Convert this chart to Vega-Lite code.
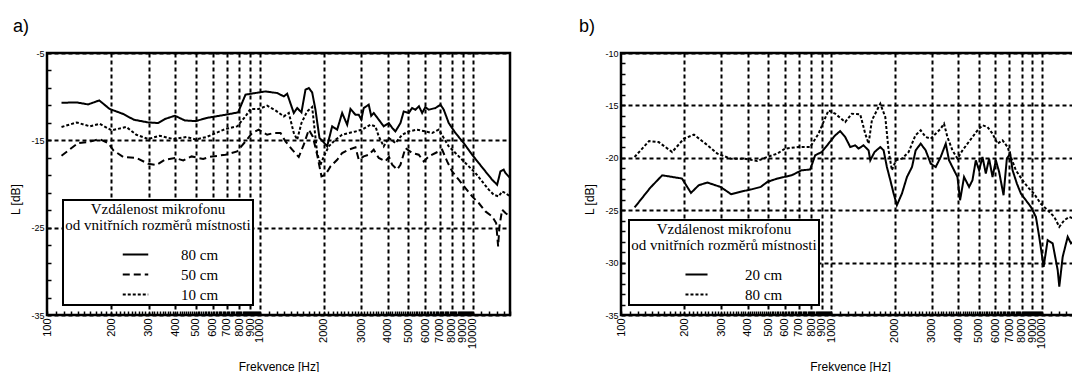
{
  "$schema": "https://vega.github.io/schema/vega-lite/v6.json",
  "background": "white",
  "padding": {"left": 8, "top": 16, "right": 0, "bottom": 0},
  "spacing": 60,
  "datasets": {
    "a": [
      {"f":117,"L":-10.7,"s":"80 cm"},{"f":138,"L":-10.66,"s":"80 cm"},{"f":156,"L":-10.89,"s":"80 cm"},{"f":176,"L":-10.43,"s":"80 cm"},{"f":197,"L":-11.41,"s":"80 cm"},{"f":228,"L":-11.98,"s":"80 cm"},{"f":256,"L":-12.64,"s":"80 cm"},{"f":299,"L":-12.95,"s":"80 cm"},{"f":333,"L":-13.02,"s":"80 cm"},{"f":358,"L":-12.56,"s":"80 cm"},{"f":399,"L":-12.18,"s":"80 cm"},{"f":444,"L":-12.72,"s":"80 cm"},{"f":500,"L":-12.8,"s":"80 cm"},{"f":562,"L":-12.44,"s":"80 cm"},{"f":690,"L":-12.07,"s":"80 cm"},{"f":791,"L":-11.8,"s":"80 cm"},{"f":857,"L":-9.77,"s":"80 cm"},{"f":955,"L":-9.58,"s":"80 cm"},{"f":1064,"L":-9.4,"s":"80 cm"},{"f":1144,"L":-9.51,"s":"80 cm"},{"f":1207,"L":-9.58,"s":"80 cm"},{"f":1297,"L":-9.97,"s":"80 cm"},{"f":1345,"L":-9.66,"s":"80 cm"},{"f":1445,"L":-11.87,"s":"80 cm"},{"f":1499,"L":-11.3,"s":"80 cm"},{"f":1570,"L":-11.8,"s":"80 cm"},{"f":1640,"L":-9.2,"s":"80 cm"},{"f":1700,"L":-9.01,"s":"80 cm"},{"f":1763,"L":-9.51,"s":"80 cm"},{"f":1827,"L":-11.49,"s":"80 cm"},{"f":1908,"L":-14.73,"s":"80 cm"},{"f":1978,"L":-15.12,"s":"80 cm"},{"f":2073,"L":-15.69,"s":"80 cm"},{"f":2189,"L":-13.4,"s":"80 cm"},{"f":2311,"L":-13.78,"s":"80 cm"},{"f":2439,"L":-11.87,"s":"80 cm"},{"f":2575,"L":-13.21,"s":"80 cm"},{"f":2669,"L":-11.41,"s":"80 cm"},{"f":2817,"L":-12.07,"s":"80 cm"},{"f":2919,"L":-12.07,"s":"80 cm"},{"f":3000,"L":-12.6,"s":"80 cm"},{"f":3081,"L":-11.3,"s":"80 cm"},{"f":3252,"L":-10.92,"s":"80 cm"},{"f":3340,"L":-12.2,"s":"80 cm"},{"f":3433,"L":-11.87,"s":"80 cm"},{"f":3625,"L":-12.64,"s":"80 cm"},{"f":3825,"L":-13.4,"s":"80 cm"},{"f":4039,"L":-13.02,"s":"80 cm"},{"f":4200,"L":-13.6,"s":"80 cm"},{"f":4341,"L":-13.98,"s":"80 cm"},{"f":4584,"L":-13.02,"s":"80 cm"},{"f":4750,"L":-11.69,"s":"80 cm"},{"f":5015,"L":-11.87,"s":"80 cm"},{"f":5200,"L":-11.3,"s":"80 cm"},{"f":5391,"L":-11.49,"s":"80 cm"},{"f":5600,"L":-11.1,"s":"80 cm"},{"f":5797,"L":-11.87,"s":"80 cm"},{"f":6000,"L":-11.2,"s":"80 cm"},{"f":6228,"L":-11.49,"s":"80 cm"},{"f":6695,"L":-11.3,"s":"80 cm"},{"f":7068,"L":-10.92,"s":"80 cm"},{"f":7324,"L":-11.49,"s":"80 cm"},{"f":7730,"L":-13.02,"s":"80 cm"},{"f":8311,"L":-14.16,"s":"80 cm"},{"f":9093,"L":-15.31,"s":"80 cm"},{"f":9956,"L":-16.65,"s":"80 cm"},{"f":10693,"L":-17.6,"s":"80 cm"},{"f":11498,"L":-18.56,"s":"80 cm"},{"f":12366,"L":-19.51,"s":"80 cm"},{"f":13052,"L":-20.08,"s":"80 cm"},{"f":13525,"L":-18.56,"s":"80 cm"},{"f":14015,"L":-18.36,"s":"80 cm"},{"f":14275,"L":-18.74,"s":"80 cm"},{"f":15000,"L":-19.3,"s":"80 cm"},

      {"f":117,"L":-16.76,"s":"50 cm"},{"f":140,"L":-15.31,"s":"50 cm"},{"f":159,"L":-15.16,"s":"50 cm"},{"f":176,"L":-14.85,"s":"50 cm"},{"f":194,"L":-15.31,"s":"50 cm"},{"f":205,"L":-16.15,"s":"50 cm"},{"f":228,"L":-16.91,"s":"50 cm"},{"f":263,"L":-17.02,"s":"50 cm"},{"f":299,"L":-17.68,"s":"50 cm"},{"f":327,"L":-17.82,"s":"50 cm"},{"f":358,"L":-17.22,"s":"50 cm"},{"f":399,"L":-17.02,"s":"50 cm"},{"f":437,"L":-17.3,"s":"50 cm"},{"f":478,"L":-16.84,"s":"50 cm"},{"f":542,"L":-17.14,"s":"50 cm"},{"f":576,"L":-16.91,"s":"50 cm"},{"f":690,"L":-16.65,"s":"50 cm"},{"f":783,"L":-16.27,"s":"50 cm"},{"f":857,"L":-15.12,"s":"50 cm"},{"f":921,"L":-14.16,"s":"50 cm"},{"f":989,"L":-13.78,"s":"50 cm"},{"f":1083,"L":-14.36,"s":"50 cm"},{"f":1164,"L":-14.16,"s":"50 cm"},{"f":1252,"L":-14.16,"s":"50 cm"},{"f":1321,"L":-15.12,"s":"50 cm"},{"f":1420,"L":-16.07,"s":"50 cm"},{"f":1525,"L":-16.91,"s":"50 cm"},{"f":1610,"L":-15.5,"s":"50 cm"},{"f":1700,"L":-13.78,"s":"50 cm"},{"f":1774,"L":-14.55,"s":"50 cm"},{"f":1861,"L":-16.65,"s":"50 cm"},{"f":1950,"L":-19.13,"s":"50 cm"},{"f":2036,"L":-18.94,"s":"50 cm"},{"f":2149,"L":-17.99,"s":"50 cm"},{"f":2311,"L":-17.22,"s":"50 cm"},{"f":2439,"L":-16.45,"s":"50 cm"},{"f":2619,"L":-16.07,"s":"50 cm"},{"f":2817,"L":-15.8,"s":"50 cm"},{"f":2919,"L":-17.22,"s":"50 cm"},{"f":3081,"L":-16.84,"s":"50 cm"},{"f":3252,"L":-16.65,"s":"50 cm"},{"f":3433,"L":-16.07,"s":"50 cm"},{"f":3625,"L":-17.02,"s":"50 cm"},{"f":3890,"L":-17.41,"s":"50 cm"},{"f":4050,"L":-16.9,"s":"50 cm"},{"f":4191,"L":-17.79,"s":"50 cm"},{"f":4423,"L":-18.36,"s":"50 cm"},{"f":4584,"L":-17.79,"s":"50 cm"},{"f":4839,"L":-15.88,"s":"50 cm"},{"f":5203,"L":-16.45,"s":"50 cm"},{"f":5588,"L":-16.65,"s":"50 cm"},{"f":5899,"L":-17.41,"s":"50 cm"},{"f":6228,"L":-16.84,"s":"50 cm"},{"f":6695,"L":-16.45,"s":"50 cm"},{"f":7196,"L":-16.07,"s":"50 cm"},{"f":7596,"L":-17.41,"s":"50 cm"},{"f":8019,"L":-18.56,"s":"50 cm"},{"f":8611,"L":-19.51,"s":"50 cm"},{"f":9261,"L":-20.46,"s":"50 cm"},{"f":9956,"L":-21.42,"s":"50 cm"},{"f":10693,"L":-22.18,"s":"50 cm"},{"f":11498,"L":-23.14,"s":"50 cm"},{"f":12366,"L":-23.71,"s":"50 cm"},{"f":12911,"L":-24.47,"s":"50 cm"},{"f":13193,"L":-27.15,"s":"50 cm"},{"f":13380,"L":-24.86,"s":"50 cm"},{"f":13776,"L":-22.94,"s":"50 cm"},{"f":14275,"L":-23.32,"s":"50 cm"},{"f":15000,"L":-23.71,"s":"50 cm"},

      {"f":117,"L":-13.47,"s":"10 cm"},{"f":138,"L":-12.95,"s":"10 cm"},{"f":159,"L":-13.4,"s":"10 cm"},{"f":177,"L":-13.1,"s":"10 cm"},{"f":201,"L":-13.86,"s":"10 cm"},{"f":236,"L":-13.47,"s":"10 cm"},{"f":263,"L":-14.36,"s":"10 cm"},{"f":299,"L":-14.85,"s":"10 cm"},{"f":339,"L":-14.47,"s":"10 cm"},{"f":392,"L":-14.85,"s":"10 cm"},{"f":452,"L":-14.62,"s":"10 cm"},{"f":500,"L":-14.9,"s":"10 cm"},{"f":562,"L":-14.62,"s":"10 cm"},{"f":690,"L":-13.7,"s":"10 cm"},{"f":783,"L":-13.4,"s":"10 cm"},{"f":857,"L":-12.26,"s":"10 cm"},{"f":904,"L":-11.41,"s":"10 cm"},{"f":989,"L":-11.41,"s":"10 cm"},{"f":1083,"L":-11.03,"s":"10 cm"},{"f":1185,"L":-11.57,"s":"10 cm"},{"f":1297,"L":-12.26,"s":"10 cm"},{"f":1369,"L":-11.87,"s":"10 cm"},{"f":1445,"L":-14.16,"s":"10 cm"},{"f":1499,"L":-14.93,"s":"10 cm"},{"f":1570,"L":-13.02,"s":"10 cm"},{"f":1670,"L":-11.69,"s":"10 cm"},{"f":1763,"L":-11.18,"s":"10 cm"},{"f":1861,"L":-16.45,"s":"10 cm"},{"f":1929,"L":-17.8,"s":"10 cm"},{"f":2000,"L":-16.84,"s":"10 cm"},{"f":2110,"L":-15.69,"s":"10 cm"},{"f":2269,"L":-14.93,"s":"10 cm"},{"f":2439,"L":-14.36,"s":"10 cm"},{"f":2619,"L":-14.16,"s":"10 cm"},{"f":2817,"L":-13.98,"s":"10 cm"},{"f":3028,"L":-13.78,"s":"10 cm"},{"f":3313,"L":-13.21,"s":"10 cm"},{"f":3497,"L":-13.4,"s":"10 cm"},{"f":3625,"L":-14.55,"s":"10 cm"},{"f":3825,"L":-15.69,"s":"10 cm"},{"f":4039,"L":-14.73,"s":"10 cm"},{"f":4341,"L":-15.31,"s":"10 cm"},{"f":4669,"L":-14.36,"s":"10 cm"},{"f":5015,"L":-13.98,"s":"10 cm"},{"f":5492,"L":-13.78,"s":"10 cm"},{"f":6007,"L":-13.98,"s":"10 cm"},{"f":6459,"L":-14.16,"s":"10 cm"},{"f":6937,"L":-13.78,"s":"10 cm"},{"f":7324,"L":-14.73,"s":"10 cm"},{"f":7730,"L":-15.69,"s":"10 cm"},{"f":8311,"L":-16.45,"s":"10 cm"},{"f":8937,"L":-17.22,"s":"10 cm"},{"f":9599,"L":-17.98,"s":"10 cm"},{"f":10318,"L":-18.74,"s":"10 cm"},{"f":11094,"L":-19.7,"s":"10 cm"},{"f":11917,"L":-20.65,"s":"10 cm"},{"f":12581,"L":-21.23,"s":"10 cm"},{"f":13282,"L":-21.42,"s":"10 cm"},{"f":13776,"L":-20.85,"s":"10 cm"},{"f":14275,"L":-21.03,"s":"10 cm"},{"f":15000,"L":-21.42,"s":"10 cm"}
    ],
    "b": [
      {"f":116,"L":-24.74,"s":"20 cm"},{"f":138,"L":-22.84,"s":"20 cm"},{"f":157,"L":-21.67,"s":"20 cm"},{"f":195,"L":-21.98,"s":"20 cm"},{"f":215,"L":-23.35,"s":"20 cm"},{"f":234,"L":-22.62,"s":"20 cm"},{"f":257,"L":-22.36,"s":"20 cm"},{"f":297,"L":-22.78,"s":"20 cm"},{"f":334,"L":-23.48,"s":"20 cm"},{"f":384,"L":-23.16,"s":"20 cm"},{"f":413,"L":-23.03,"s":"20 cm"},{"f":461,"L":-22.78,"s":"20 cm"},{"f":496,"L":-22.3,"s":"20 cm"},{"f":553,"L":-21.98,"s":"20 cm"},{"f":647,"L":-21.67,"s":"20 cm"},{"f":722,"L":-21.19,"s":"20 cm"},{"f":792,"L":-21.12,"s":"20 cm"},{"f":837,"L":-19.76,"s":"20 cm"},{"f":899,"L":-19.45,"s":"20 cm"},{"f":968,"L":-18.65,"s":"20 cm"},{"f":1041,"L":-17.86,"s":"20 cm"},{"f":1100,"L":-17.45,"s":"20 cm"},{"f":1162,"L":-18.02,"s":"20 cm"},{"f":1228,"L":-18.97,"s":"20 cm"},{"f":1297,"L":-18.81,"s":"20 cm"},{"f":1345,"L":-19.12,"s":"20 cm"},{"f":1420,"L":-18.81,"s":"20 cm"},{"f":1501,"L":-19.29,"s":"20 cm"},{"f":1529,"L":-20.24,"s":"20 cm"},{"f":1602,"L":-19.45,"s":"20 cm"},{"f":1706,"L":-18.97,"s":"20 cm"},{"f":1769,"L":-19.29,"s":"20 cm"},{"f":1834,"L":-20.88,"s":"20 cm"},{"f":1904,"L":-22.14,"s":"20 cm"},{"f":1974,"L":-23.41,"s":"20 cm"},{"f":2046,"L":-24.52,"s":"20 cm"},{"f":2162,"L":-23.41,"s":"20 cm"},{"f":2284,"L":-21.83,"s":"20 cm"},{"f":2413,"L":-20.88,"s":"20 cm"},{"f":2512,"L":-19.29,"s":"20 cm"},{"f":2654,"L":-18.65,"s":"20 cm"},{"f":2803,"L":-19.29,"s":"20 cm"},{"f":2961,"L":-20.55,"s":"20 cm"},{"f":3128,"L":-20.88,"s":"20 cm"},{"f":3304,"L":-19.92,"s":"20 cm"},{"f":3491,"L":-18.65,"s":"20 cm"},{"f":3620,"L":-20.24,"s":"20 cm"},{"f":3823,"L":-21.19,"s":"20 cm"},{"f":3968,"L":-21.83,"s":"20 cm"},{"f":4083,"L":-24.05,"s":"20 cm"},{"f":4266,"L":-21.83,"s":"20 cm"},{"f":4507,"L":-22.78,"s":"20 cm"},{"f":4677,"L":-22.14,"s":"20 cm"},{"f":4850,"L":-20.24,"s":"20 cm"},{"f":5029,"L":-21.19,"s":"20 cm"},{"f":5219,"L":-19.92,"s":"20 cm"},{"f":5411,"L":-21.5,"s":"20 cm"},{"f":5610,"L":-20.08,"s":"20 cm"},{"f":5824,"L":-21.83,"s":"20 cm"},{"f":6039,"L":-20.24,"s":"20 cm"},{"f":6261,"L":-21.35,"s":"20 cm"},{"f":6570,"L":-23.57,"s":"20 cm"},{"f":6812,"L":-20.08,"s":"20 cm"},{"f":7063,"L":-19.6,"s":"20 cm"},{"f":7253,"L":-21.19,"s":"20 cm"},{"f":7603,"L":-22.46,"s":"20 cm"},{"f":7943,"L":-23.41,"s":"20 cm"},{"f":8391,"L":-24.05,"s":"20 cm"},{"f":8864,"L":-24.69,"s":"20 cm"},{"f":9363,"L":-25.64,"s":"20 cm"},{"f":9707,"L":-27.54,"s":"20 cm"},{"f":10188,"L":-30.4,"s":"20 cm"},{"f":10644,"L":-27.86,"s":"20 cm"},{"f":11245,"L":-28.17,"s":"20 cm"},{"f":11880,"L":-30.71,"s":"20 cm"},{"f":12090,"L":-32.3,"s":"20 cm"},{"f":12548,"L":-29.45,"s":"20 cm"},{"f":13255,"L":-27.54,"s":"20 cm"},{"f":13745,"L":-28.17,"s":"20 cm"},{"f":15000,"L":-27.5,"s":"20 cm"},

      {"f":116,"L":-19.92,"s":"80 cm"},{"f":136,"L":-18.4,"s":"80 cm"},{"f":151,"L":-18.5,"s":"80 cm"},{"f":175,"L":-19.45,"s":"80 cm"},{"f":199,"L":-18.17,"s":"80 cm"},{"f":222,"L":-17.79,"s":"80 cm"},{"f":252,"L":-18.65,"s":"80 cm"},{"f":287,"L":-19.6,"s":"80 cm"},{"f":332,"L":-20.08,"s":"80 cm"},{"f":384,"L":-20.08,"s":"80 cm"},{"f":444,"L":-20.3,"s":"80 cm"},{"f":496,"L":-19.92,"s":"80 cm"},{"f":553,"L":-19.6,"s":"80 cm"},{"f":602,"L":-19.12,"s":"80 cm"},{"f":697,"L":-18.97,"s":"80 cm"},{"f":792,"L":-18.97,"s":"80 cm"},{"f":868,"L":-17.7,"s":"80 cm"},{"f":916,"L":-16.59,"s":"80 cm"},{"f":968,"L":-15.48,"s":"80 cm"},{"f":1041,"L":-15.79,"s":"80 cm"},{"f":1162,"L":-16.59,"s":"80 cm"},{"f":1250,"L":-15.79,"s":"80 cm"},{"f":1370,"L":-15.86,"s":"80 cm"},{"f":1447,"L":-17.7,"s":"80 cm"},{"f":1501,"L":-18.65,"s":"80 cm"},{"f":1556,"L":-16.43,"s":"80 cm"},{"f":1643,"L":-15.48,"s":"80 cm"},{"f":1706,"L":-14.84,"s":"80 cm"},{"f":1802,"L":-16.11,"s":"80 cm"},{"f":1868,"L":-19.29,"s":"80 cm"},{"f":1937,"L":-21.19,"s":"80 cm"},{"f":2024,"L":-20.24,"s":"80 cm"},{"f":2162,"L":-20.08,"s":"80 cm"},{"f":2327,"L":-19.45,"s":"80 cm"},{"f":2504,"L":-17.86,"s":"80 cm"},{"f":2654,"L":-17.38,"s":"80 cm"},{"f":2803,"L":-18.02,"s":"80 cm"},{"f":2961,"L":-18.17,"s":"80 cm"},{"f":3128,"L":-17.7,"s":"80 cm"},{"f":3304,"L":-17.22,"s":"80 cm"},{"f":3426,"L":-16.74,"s":"80 cm"},{"f":3556,"L":-18.02,"s":"80 cm"},{"f":3757,"L":-19.29,"s":"80 cm"},{"f":3968,"L":-20.08,"s":"80 cm"},{"f":4192,"L":-19.29,"s":"80 cm"},{"f":4429,"L":-18.65,"s":"80 cm"},{"f":4677,"L":-18.02,"s":"80 cm"},{"f":4941,"L":-17.38,"s":"80 cm"},{"f":5219,"L":-16.9,"s":"80 cm"},{"f":5513,"L":-17.06,"s":"80 cm"},{"f":5824,"L":-17.7,"s":"80 cm"},{"f":6152,"L":-18.65,"s":"80 cm"},{"f":6500,"L":-18.33,"s":"80 cm"},{"f":6866,"L":-18.97,"s":"80 cm"},{"f":7119,"L":-19.92,"s":"80 cm"},{"f":7519,"L":-21.19,"s":"80 cm"},{"f":8092,"L":-22.14,"s":"80 cm"},{"f":8549,"L":-22.78,"s":"80 cm"},{"f":9161,"L":-23.41,"s":"80 cm"},{"f":9858,"L":-24.36,"s":"80 cm"},{"f":10644,"L":-25,"s":"80 cm"},{"f":11446,"L":-25.64,"s":"80 cm"},{"f":12090,"L":-26.59,"s":"80 cm"},{"f":12772,"L":-25.95,"s":"80 cm"},{"f":13490,"L":-25.64,"s":"80 cm"},{"f":15000,"L":-26,"s":"80 cm"}
    ]
  },
  "hconcat": [
    {
      "width": 463,
      "height": 262,
      "title": {"text": "a)", "anchor": "start", "offset": 13, "dx": 3},
      "data": {"name": "a"},
      "mark": {"type": "line", "color": "black", "strokeWidth": 2, "clip": true},
      "encoding": {
        "x": {
          "field": "f", "type": "quantitative", "title": "Frekvence [Hz]",
          "scale": {"type": "log", "domain": [100, 15000], "nice": false},
          "axis": {
            "values": [100,110,120,130,140,150,160,170,180,190,200,210,220,230,240,250,260,270,280,290,300,310,320,330,340,350,360,370,380,390,400,410,420,430,440,450,460,470,480,490,500,510,520,530,540,550,560,570,580,590,600,610,620,630,640,650,660,670,680,690,700,710,720,730,740,750,760,770,780,790,800,810,820,830,840,850,860,870,880,890,900,910,920,930,940,950,960,970,980,990,1000,1100,1200,1300,1400,1500,1600,1700,1800,1900,2000,2100,2200,2300,2400,2500,2600,2700,2800,2900,3000,3100,3200,3300,3400,3500,3600,3700,3800,3900,4000,4100,4200,4300,4400,4500,4600,4700,4800,4900,5000,5100,5200,5300,5400,5500,5600,5700,5800,5900,6000,6100,6200,6300,6400,6500,6600,6700,6800,6900,7000,7100,7200,7300,7400,7500,7600,7700,7800,7900,8000,8100,8200,8300,8400,8500,8600,8700,8800,8900,9000,9100,9200,9300,9400,9500,9600,9700,9800,9900,10000,11000,12000,13000,14000,15000],
            "labelExpr": "(datum.value <= 10000 && datum.value % pow(10, floor(log(datum.value)/LN10 + 1e-9)) == 0) ? toString(datum.value) : ''",
            "labelAngle": 270,
            "labelOverlap": false,
            "labelFontSize": 11,
            "labelPadding": 7,
            "titlePadding": 13,
            "titleFontSize": 12,
            "gridOpacity": {"condition": {"test": "datum.value > 100 && datum.value <= 10000 && datum.value % pow(10, floor(log(datum.value)/LN10 + 1e-9)) == 0", "value": 1}, "value": 0}
          }
        },
        "y": {
          "field": "L", "type": "quantitative", "title": "L [dB]",
          "scale": {"domain": [-35, -5], "nice": false, "zero": false},
          "axis": {
            "values": [-35,-33,-31,-29,-27,-25,-23,-21,-19,-17,-15,-13,-11,-9,-7,-5],
            "labelExpr": "datum.value % 10 == -5 ? toString(datum.value) : ''",
            "gridOpacity": {"condition": {"test": "datum.value % 10 == -5", "value": 1}, "value": 0},
            "labelPadding": 7,
            "titlePadding": 8,
            "titleY": 146
          }
        },
        "strokeDash": {
          "field": "s", "type": "nominal",
          "scale": {"domain": ["80 cm", "50 cm", "10 cm"], "range": [[1, 0], [7, 4], [3, 2]]},
          "legend": {"title": ["Vzdálenost mikrofonu", "od vnitřních rozměrů místnosti"], "legendX": 16, "legendY": 147, "symbolType": "M-1.7,0H1.7", "symbolSize": 225, "symbolOffset": 29, "labelOffset": 37}
        }
      }
    },
    {
      "width": 458,
      "height": 262,
      "title": {"text": "b)", "anchor": "start", "offset": 13, "dx": -5},
      "data": {"name": "b"},
      "mark": {"type": "line", "color": "black", "strokeWidth": 2, "clip": true},
      "encoding": {
        "x": {
          "field": "f", "type": "quantitative", "title": "Frekvence [Hz]",
          "scale": {"type": "log", "domain": [100, 15000], "nice": false},
          "axis": {
            "values": [100,110,120,130,140,150,160,170,180,190,200,210,220,230,240,250,260,270,280,290,300,310,320,330,340,350,360,370,380,390,400,410,420,430,440,450,460,470,480,490,500,510,520,530,540,550,560,570,580,590,600,610,620,630,640,650,660,670,680,690,700,710,720,730,740,750,760,770,780,790,800,810,820,830,840,850,860,870,880,890,900,910,920,930,940,950,960,970,980,990,1000,1100,1200,1300,1400,1500,1600,1700,1800,1900,2000,2100,2200,2300,2400,2500,2600,2700,2800,2900,3000,3100,3200,3300,3400,3500,3600,3700,3800,3900,4000,4100,4200,4300,4400,4500,4600,4700,4800,4900,5000,5100,5200,5300,5400,5500,5600,5700,5800,5900,6000,6100,6200,6300,6400,6500,6600,6700,6800,6900,7000,7100,7200,7300,7400,7500,7600,7700,7800,7900,8000,8100,8200,8300,8400,8500,8600,8700,8800,8900,9000,9100,9200,9300,9400,9500,9600,9700,9800,9900,10000,11000,12000,13000,14000,15000],
            "labelExpr": "(datum.value <= 10000 && datum.value % pow(10, floor(log(datum.value)/LN10 + 1e-9)) == 0) ? toString(datum.value) : ''",
            "labelAngle": 270,
            "labelOverlap": false,
            "labelFontSize": 11,
            "labelPadding": 7,
            "titlePadding": 13,
            "titleFontSize": 12,
            "gridOpacity": {"condition": {"test": "datum.value > 100 && datum.value <= 10000 && datum.value % pow(10, floor(log(datum.value)/LN10 + 1e-9)) == 0", "value": 1}, "value": 0}
          }
        },
        "y": {
          "field": "L", "type": "quantitative", "title": "L [dB]",
          "scale": {"domain": [-35, -10], "nice": false, "zero": false},
          "axis": {
            "values": [-35,-34,-33,-32,-31,-30,-29,-28,-27,-26,-25,-24,-23,-22,-21,-20,-19,-18,-17,-16,-15,-14,-13,-12,-11,-10],
            "labelExpr": "datum.value % 5 == 0 ? toString(datum.value) : ''",
            "gridOpacity": {"condition": {"test": "datum.value % 5 == 0", "value": 1}, "value": 0},
            "labelPadding": 7,
            "titlePadding": 8,
            "titleY": 146
          }
        },
        "strokeDash": {
          "field": "s", "type": "nominal",
          "scale": {"domain": ["20 cm", "80 cm"], "range": [[1, 0], [3, 2]]},
          "legend": {"title": ["Vzdálenost mikrofonu", "od vnitřních rozměrů místnosti"], "legendX": 8, "legendY": 167, "symbolType": "M-1.47,0H1.47", "symbolSize": 225, "symbolOffset": 23, "labelOffset": 40}
        }
      }
    }
  ],
  "resolve": {
    "scale": {"y": "independent", "x": "independent", "strokeDash": "independent"},
    "legend": {"strokeDash": "independent"},
    "axis": {"x": "independent", "y": "independent"}
  },
  "config": {
    "view": {"stroke": "black", "strokeWidth": 2.5},
    "title": {"font": "Liberation Sans", "fontSize": 18, "fontWeight": "normal", "color": "black", "anchor": "start"},
    "axis": {
      "domain": false,
      "labelFont": "Liberation Sans", "labelFontSize": 9, "labelColor": "black",
      "titleFont": "Liberation Sans", "titleFontSize": 12, "titleFontWeight": "normal", "titleColor": "black",
      "tickColor": "black", "tickSize": -4, "tickWidth": 1.5,
      "gridColor": "black", "gridDash": [4, 3], "gridWidth": 2
    },
    "legend": {
      "orient": "none",
      "titleAnchor": "middle", "titleAlign": "center",
      "titleFont": "Liberation Serif", "titleFontSize": 15, "titleFontWeight": "normal", "titleColor": "black",
      "titleLimit": 400, "titleLineHeight": 16, "titlePadding": 13,
      "labelFont": "Liberation Serif", "labelFontSize": 15, "labelColor": "black",
      "symbolStrokeWidth": 2, "symbolStrokeColor": "black",
      "rowPadding": 3, "padding": 2,
      "strokeColor": "black", "strokeWidth": 2, "fillColor": "white"
    }
  }
}
